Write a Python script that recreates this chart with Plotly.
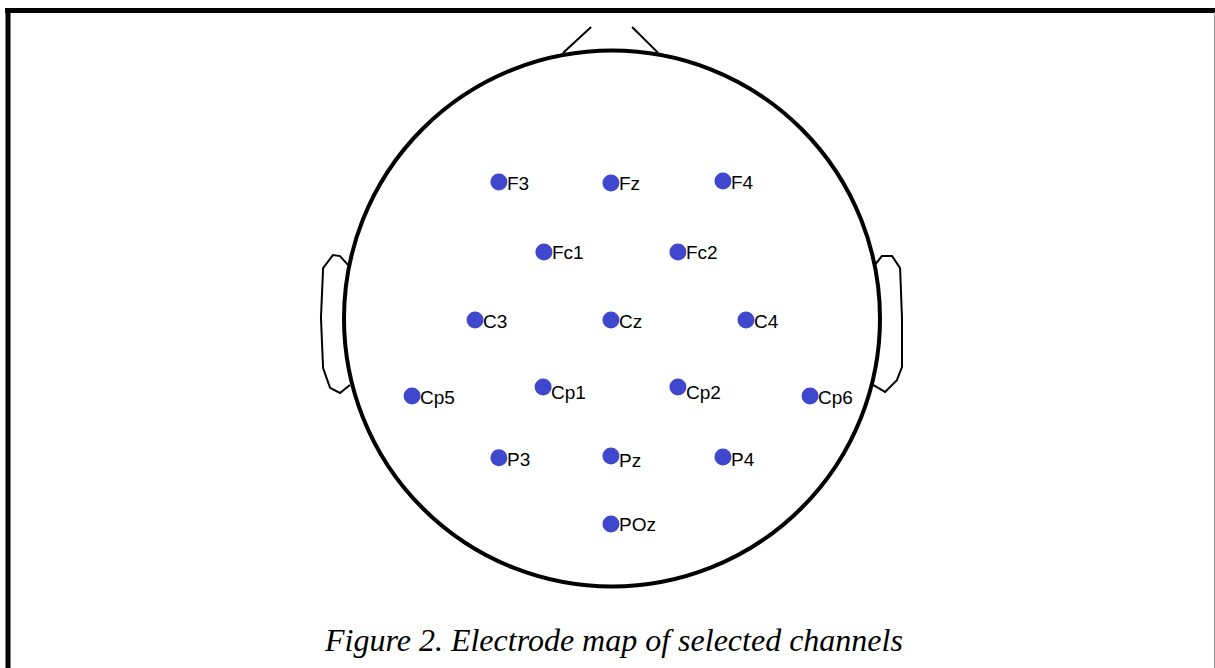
import plotly.graph_objects as go

# Electrode data (head-radius units, origin at head centre)
channels = ["F3", "Fz", "F4", "Fc1", "Fc2", "C3", "Cz", "C4",
            "Cp5", "Cp1", "Cp2", "Cp6", "P3", "Pz", "P4", "POz"]
elec_x = [-0.422, -0.004, 0.414, -0.254, 0.246, -0.511, -0.004, 0.500,
          -0.746, -0.257, 0.246, 0.739, -0.422, -0.004, 0.414, -0.004]
elec_y = [0.509, 0.506, 0.513, 0.248, 0.248, -0.006, -0.006, -0.006,
          -0.289, -0.256, -0.256, -0.289, -0.520, -0.513, -0.517, -0.767]
label_y = [0.505, 0.502, 0.509, 0.248, 0.248, -0.010, -0.010, -0.010,
           -0.295, -0.275, -0.275, -0.295, -0.525, -0.528, -0.525, -0.770]

# Head outline parts
nose_left_x = [-0.183, -0.078]
nose_left_y = [0.991, 1.088]
nose_right_x = [0.075, 0.172]
nose_right_y = [1.088, 0.991]
ear_left_x = [-0.985, -1.015, -1.041, -1.078, -1.086, -1.078, -1.052, -1.015, -0.978]
ear_left_y = [0.200, 0.233, 0.237, 0.188, 0.002, -0.185, -0.259, -0.278, -0.248]
ear_right_x = [0.981, 1.007, 1.045, 1.075, 1.082, 1.082, 1.063, 1.019, 0.974]
ear_right_y = [0.200, 0.233, 0.233, 0.188, 0.002, -0.181, -0.230, -0.274, -0.248]

caption = "Figure 2. Electrode map of selected channels"

W, H = 1215, 668
PX = 268.0          # pixels per head radius
CX, CY = 612.0, 318.5

fig = go.Figure()

outline_style = dict(color="black", width=2)
for xs, ys in [(nose_left_x, nose_left_y), (nose_right_x, nose_right_y),
               (ear_left_x, ear_left_y), (ear_right_x, ear_right_y)]:
    fig.add_trace(go.Scatter(x=xs, y=ys, mode="lines", line=outline_style,
                             hoverinfo="skip", showlegend=False))

fig.add_shape(type="circle", xref="x", yref="y", x0=-1, x1=1, y0=-1, y1=1,
              line=dict(color="black", width=4))

fig.add_trace(go.Scatter(x=elec_x, y=elec_y, mode="markers",
                         marker=dict(size=17, color="#3f47cc", line=dict(width=0)),
                         text=channels, hoverinfo="text", showlegend=False))

for name, x, y in zip(channels, elec_x, label_y):
    fig.add_annotation(x=x + 7 / PX, y=y, xref="x", yref="y", text=name,
                       showarrow=False, xanchor="left", yanchor="middle",
                       borderpad=0,
                       font=dict(family="Liberation Sans, Arial", size=19, color="black"))

# Frame lines
fig.add_shape(type="line", xref="paper", yref="paper",
              x0=5 / W, x1=1, y0=1 - 10.5 / H, y1=1 - 10.5 / H,
              line=dict(color="black", width=5))
fig.add_shape(type="line", xref="paper", yref="paper",
              x0=8 / W, x1=8 / W, y0=0, y1=1 - 8 / H,
              line=dict(color="black", width=5))
fig.add_shape(type="line", xref="paper", yref="paper",
              x0=1214.5 / W, x1=1214.5 / W, y0=0, y1=1 - 12 / H,
              line=dict(color="#9a9a9a", width=1))

fig.add_annotation(x=613 / W, y=1 - 640 / H, xref="paper", yref="paper",
                   text=caption, showarrow=False, xanchor="center", yanchor="middle",
                   font=dict(family="Liberation Serif, Times New Roman", size=32,
                             color="black", style="italic"))

fig.update_xaxes(range=[-CX / PX, (W - CX) / PX], visible=False, fixedrange=True)
fig.update_yaxes(range=[-(H - CY) / PX, CY / PX], visible=False, fixedrange=True)
fig.update_layout(width=W, height=H, margin=dict(l=0, r=0, t=0, b=0),
                  paper_bgcolor="white", plot_bgcolor="white", showlegend=False)

fig.write_html("out.html", config={"displayModeBar": False})
